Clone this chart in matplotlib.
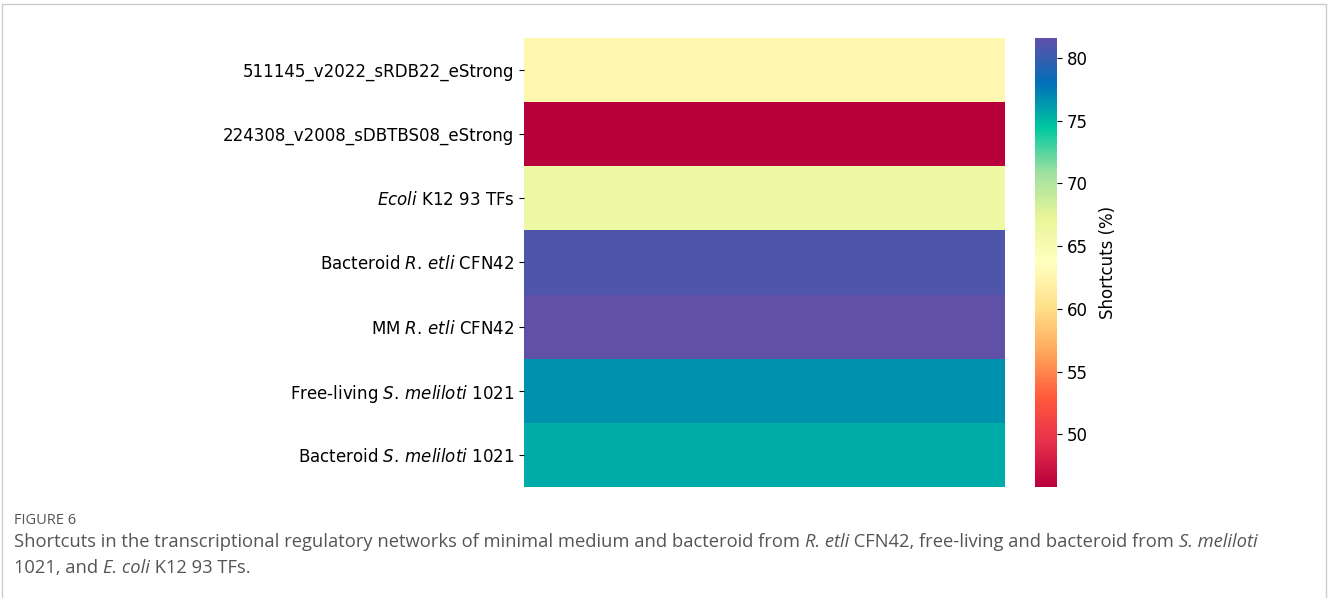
import matplotlib.pyplot as plt
import numpy as np
from matplotlib.patches import Rectangle
from matplotlib.colors import LinearSegmentedColormap

# data
rows = ["511145_v2022_sRDB22_eStrong",
        "224308_v2008_sDBTBS08_eStrong",
        r"$\mathit{Ecoli}$ K12 93 TFs",
        r"Bacteroid $\mathit{R.\,etli}$ CFN42",
        r"MM $\mathit{R.\,etli}$ CFN42",
        r"Free-living $\mathit{S.\,meliloti}$ 1021",
        r"Bacteroid $\mathit{S.\,meliloti}$ 1021"]
shortcuts = [62.6, 45.8, 66.2, 80.8, 81.6, 76.6, 75.5]
cbar_ticks = [50, 55, 60, 65, 70, 75, 80]

# Spectral, but with the more saturated look of the figure
spectral_sat = ["#b8003c", "#e8304c", "#ff5a3c", "#ffa85a", "#ffe08a", "#ffffc0",
                "#e8f598", "#a0e0a0", "#00c8a0", "#0070b8", "#6050a8"]
cmap = LinearSegmentedColormap.from_list("spectral_sat", spectral_sat)

plt.rcParams['font.family'] = 'DejaVu Sans'
plt.rcParams['mathtext.fontset'] = 'dejavusans'

fig = plt.figure(figsize=(13.28, 5.98), dpi=100)
ax = fig.add_axes([0.3946, 0.1856, 0.3622, 0.7509])
cax = fig.add_axes([0.7794, 0.1856, 0.0166, 0.7509])

data = np.array(shortcuts).reshape(-1, 1)
mesh = ax.pcolormesh(data, cmap=cmap, vmin=min(shortcuts), vmax=max(shortcuts))
ax.set_ylim(len(rows), 0)
ax.set_yticks(np.arange(len(rows)) + 0.5)
ax.set_yticklabels(rows, fontsize=12)
ax.set_xticks([])
for s in ax.spines.values():
    s.set_visible(False)

cb = fig.colorbar(mesh, cax=cax)
cb.set_ticks(cbar_ticks)
cb.ax.tick_params(labelsize=12)
cb.outline.set_visible(False)
cb.set_label("Shortcuts (%)", fontsize=12, labelpad=8)

# frame around the figure
fig.patches.append(Rectangle((0.0015, -0.01), 0.997, 1.0033, transform=fig.transFigure,
                             fill=False, edgecolor="#cccccc", linewidth=1))

# caption
cap_col = "#555555"
fig.text(0.0105, 0.130, "FIGURE 6", fontsize=10.5, color=cap_col, family="Open Sans", va="center")

def seg_line(x, y, parts):
    r = fig.canvas.get_renderer()
    for txt, it in parts:
        t = fig.text(x, y, txt, fontsize=13.2, color=cap_col, family="Open Sans",
                     style="italic" if it else "normal", va="center")
        bb = t.get_window_extent(renderer=r)
        x += bb.width / fig.bbox.width

seg_line(0.0105, 0.093, [("Shortcuts in the transcriptional regulatory networks of minimal medium and bacteroid from ", False),
                         ("R. etli", True),
                         (" CFN42, free-living and bacteroid from ", False),
                         ("S. meliloti", True)])
seg_line(0.0105, 0.050, [("1021, and ", False), ("E. coli", True), (" K12 93 TFs.", False)])

fig.savefig("out.png", dpi=100)
